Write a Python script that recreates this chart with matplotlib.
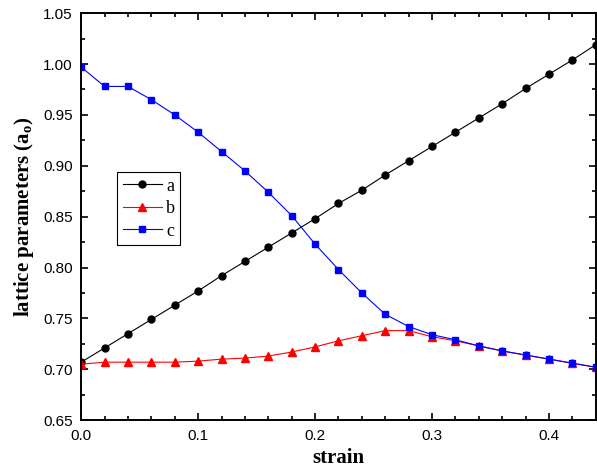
import numpy as np
import matplotlib.pyplot as plt
from matplotlib.ticker import MultipleLocator

strain = [0.00, 0.02, 0.04, 0.06, 0.08, 0.10, 0.12, 0.14, 0.16, 0.18, 0.20, 0.22,
          0.24, 0.26, 0.28, 0.30, 0.32, 0.34, 0.36, 0.38, 0.40, 0.42, 0.44]

a = [0.707, 0.721, 0.735, 0.749, 0.763, 0.777, 0.792, 0.806, 0.820, 0.834, 0.848, 0.863,
     0.876, 0.891, 0.905, 0.919, 0.933, 0.947, 0.961, 0.976, 0.990, 1.004, 1.019]
b = [0.705, 0.707, 0.707, 0.707, 0.707, 0.708, 0.710, 0.711, 0.713, 0.717, 0.722, 0.728,
     0.733, 0.738, 0.738, 0.732, 0.728, 0.723, 0.718, 0.714, 0.710, 0.706, 0.702]
c = [0.997, 0.978, 0.978, 0.965, 0.950, 0.933, 0.914, 0.895, 0.874, 0.851, 0.823, 0.798,
     0.775, 0.754, 0.742, 0.734, 0.729, 0.723, 0.718, 0.714, 0.710, 0.706, 0.702]

plt.rcParams['font.family'] = ['Liberation Sans', 'DejaVu Sans']

fig = plt.figure(figsize=(5.97, 4.70), dpi=100)
ax = fig.add_axes([0.136, 0.106, 0.862, 0.866])

ax.plot(strain, a, color='black', lw=0.8, marker='o', ms=5, label='a')
ax.plot(strain, b, color='red', lw=0.8, marker='^', ms=6, label='b')
ax.plot(strain, c, color='blue', lw=0.8, marker='s', ms=5, label='c')

ax.set_xlim(0, 0.44)
ax.set_ylim(0.65, 1.05)
ax.xaxis.set_major_locator(MultipleLocator(0.1))
ax.xaxis.set_minor_locator(MultipleLocator(0.02))
ax.yaxis.set_major_locator(MultipleLocator(0.05))
ax.yaxis.set_minor_locator(MultipleLocator(0.025))
ax.set_xticks(np.arange(0, 0.45, 0.1))
ax.set_xticklabels(['0.0', '0.1', '0.2', '0.3', '0.4'])
ax.set_yticklabels(['%.2f' % v for v in ax.get_yticks()])

ax.tick_params(which='both', direction='in', top=True, right=True, width=1.2,
               labelsize=11)
ax.tick_params(which='major', length=5)
ax.tick_params(which='minor', length=3)
ax.tick_params(axis='x', pad=6)
ax.tick_params(axis='y', pad=6)
for s in ax.spines.values():
    s.set_linewidth(1.4)

ax.set_xlabel('strain', family='Liberation Serif', fontsize=15, fontweight='bold',
              labelpad=4)
ax.set_ylabel('lattice parameters (a$_\\mathregular{o}$)', family='Liberation Serif',
              fontsize=15, fontweight='bold', labelpad=5)

leg = ax.legend(loc='upper left', bbox_to_anchor=(0.07, 0.609), borderaxespad=0,
                fancybox=False, edgecolor='black', framealpha=1,
                handlelength=2.2, handletextpad=0.2, borderpad=0.3, labelspacing=0.3,
                prop={'family': 'Liberation Serif', 'size': 13})
leg.get_frame().set_linewidth(0.8)

fig.savefig('out.png', dpi=100)
